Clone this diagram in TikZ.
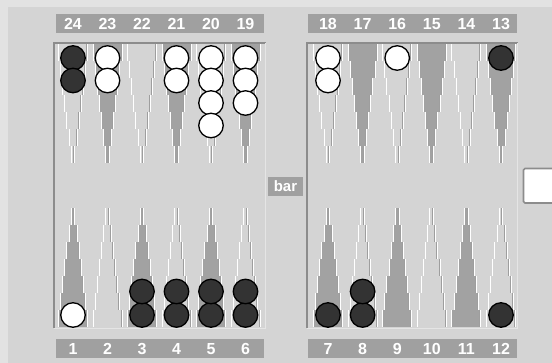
\documentclass[tikz,border=0pt]{standalone}
\usepackage{fontspec}
\setmainfont{Liberation Sans}
\usetikzlibrary{positioning}

\definecolor{paper}{HTML}{E2E2E2}
\definecolor{boardbg}{HTML}{D4D4D4}
\definecolor{ptdark}{HTML}{A2A2A2}
\definecolor{tagbg}{HTML}{A0A0A0}
\definecolor{rimdark}{HTML}{8C8C8C}
\definecolor{stone}{HTML}{333333}

\begin{document}
\begin{tikzpicture}[x=1pt, y=-1pt,
    pip/.style={font=\fontsize{16}{16}\selectfont\bfseries, text=white, inner sep=0pt,
                text height=11.5pt, text depth=0pt},
    tagbar/.style={fill=tagbg},
    barlbl/.style={fill=tagbg, text=white, inner sep=0pt, minimum width=35pt,
                   minimum height=19pt, font=\fontsize{15}{15}\selectfont\bfseries},
    stoneB/.style={circle, draw=black, line width=1.3pt, fill=stone,
                   minimum size=24.5pt, inner sep=0pt},
    stoneW/.style={stoneB, fill=white},
    dk/.style={fill=ptdark},
    lt/.style={fill=boardbg},
    hl/.style={draw=white, line width=1pt},
    shade/.style={draw=black!38, line width=0.6pt},
    rimD/.style={draw=rimdark, line width=1.6pt},
    rimL/.style={draw=white!90!black, line width=1.4pt},
]
    \useasboundingbox (0,0) rectangle (552,363);
    \fill[paper] (0,0) rectangle (552,363);
    \fill[boardbg] (8,7) rectangle (552,363);

    % number strips
    \fill[tagbar] (56,14) rectangle (264,33);
    \fill[tagbar] (308,14) rectangle (517,33);
    \fill[tagbar] (56,339) rectangle (264,358);
    \fill[tagbar] (308,339) rectangle (517,358);

    % top points (hanging down)
    \foreach \p/\x/\c in {24/73/lt, 23/107.5/dk, 22/142/lt, 21/176.5/dk, 20/211/lt, 19/245.5/dk,
                          18/328/lt, 17/362.6/dk, 16/397.2/lt, 15/431.8/dk, 14/466.4/lt, 13/501/dk}{
        \foreach \k in {0,...,6}{
            \pgfmathsetmacro\w{14.5-2.1*\k}
            \fill[\c] (\x-\w, 44+17*\k) rectangle (\x+\w, 61+17*\k);
            \draw[shade] (\x+\w-1.2, 44+17*\k) -- ++(0,17);
            \draw[hl] (\x-\w, 44+17*\k) -- ++(0,17);
            \draw[hl] (\x+\w, 44+17*\k) -- ++(0,17);
        }
        \node[pip] (n\p) at (\x,23.5) {\p};
    }

    % bottom points (standing up)
    \foreach \p/\x/\c in {1/73/dk, 2/107.5/lt, 3/142/dk, 4/176.5/lt, 5/211/dk, 6/245.5/lt,
                          7/328/dk, 8/362.6/lt, 9/397.2/dk, 10/431.8/lt, 11/466.4/dk, 12/501/lt}{
        \foreach \k in {0,...,6}{
            \pgfmathsetmacro\w{14.5-2.1*\k}
            \fill[\c] (\x-\w, 327-17*\k) rectangle (\x+\w, 310-17*\k);
            \draw[shade] (\x+\w-1.2, 327-17*\k) -- ++(0,-17);
            \draw[hl] (\x-\w, 327-17*\k) -- ++(0,-17);
            \draw[hl] (\x+\w, 327-17*\k) -- ++(0,-17);
        }
        \node[pip] (n\p) at (\x,348.5) {\p};
    }

    % board rims
    \draw[rimD] (54,328) -- (54,43) -- (266,43);
    \draw[rimL] (265.5,43) -- (265.5,328.5) -- (54,328.5);
    \draw[rimD] (307,328) -- (307,43) -- (518,43);
    \draw[rimL] (517.5,43) -- (517.5,328.5) -- (307,328.5);

    \node[barlbl] (bar) at (285.5,186.5) {bar};

    % box at right edge
    \draw[rimD, fill=white, rounded corners=1.5pt] (523.5,168.5) rectangle (570,203);

    % checkers, top
    \foreach \p/\x/\n/\s in {24/73/2/B, 23/107.5/2/W, 21/176.5/2/W, 20/211/4/W, 19/245.5/3/W,
                             18/328/2/W, 16/397.2/1/W, 13/501/1/B}{
        \foreach \k in {1,...,\n}
            \node[stone\s] (c\p-\k) at (\x, 58+22.5*\k-22.5) {};
    }
    % checkers, bottom
    \foreach \p/\x/\n/\s in {1/73/1/W, 3/142/2/B, 4/176.5/2/B, 5/211/2/B, 6/245.5/2/B,
                             7/328/1/B, 8/362.6/2/B, 12/501/1/B}{
        \foreach \k in {1,...,\n}
            \node[stone\s] (c\p-\k) at (\x, 315-23.5*\k+23.5) {};
    }
\end{tikzpicture}
\end{document}
